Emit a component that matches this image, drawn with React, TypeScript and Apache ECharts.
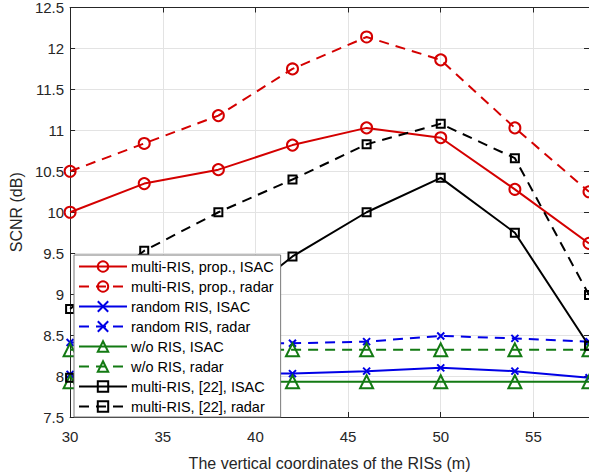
import React, { useEffect, useRef } from "react";
import * as echarts from "echarts";

const xValues = [30, 34, 38, 42, 46, 50, 54, 58];
const propISAC = [10.0, 10.35, 10.52, 10.82, 11.03, 10.91, 10.28, 9.62];
const propRadar = [10.5, 10.84, 11.18, 11.75, 12.14, 11.86, 11.03, 10.25];
const randomISAC = [8.02, 8.03, 8.03, 8.03, 8.06, 8.1, 8.06, 7.98];
const randomRadar = [8.41, 8.4, 8.4, 8.4, 8.42, 8.49, 8.46, 8.42];
const woISAC = [7.93, 7.93, 7.93, 7.93, 7.93, 7.93, 7.93, 7.93];
const woRadar = [8.32, 8.32, 8.32, 8.32, 8.32, 8.32, 8.32, 8.32];
const ref22ISAC = [7.98, 8.4, 8.75, 9.46, 10.0, 10.42, 9.75, 8.37];
const ref22Radar = [8.82, 9.53, 10.0, 10.4, 10.83, 11.08, 10.66, 8.99];

const seriesNames = [
  "multi-RIS, prop., ISAC",
  "multi-RIS, prop., radar",
  "random RIS, ISAC",
  "random RIS, radar",
  "w/o RIS, ISAC",
  "w/o RIS, radar",
  "multi-RIS, [22], ISAC",
  "multi-RIS, [22], radar",
];

const FONT = "'Liberation Sans', Arial, Helvetica, sans-serif";
const AXIS_COLOR = "#262626";
const RED = "#d40000";
const BLUE = "#0000e6";
const GREEN = "#137a13";
const BLACK = "#000000";
const CROSS = "path://M0,0L10,10M0,10L10,0";

export default function App() {
  const ref = useRef<HTMLDivElement>(null);
  useEffect(() => {
    if (!ref.current) return;
    const chart = echarts.init(ref.current, null, { renderer: "svg" });
    const mk = (
      name: string,
      data: number[],
      color: string,
      dashed: boolean,
      symbol: string,
      size: number
    ) => ({
      name,
      type: "line",
      data: xValues.map((x, i) => [x, data[i]]),
      symbol,
      symbolSize: size,
      showAllSymbol: true,
      clip: false,
      lineStyle: { color, width: 2, type: dashed ? [10, 7] : "solid" },
      itemStyle: { color: "rgba(0,0,0,0)", borderColor: color, borderWidth: 2 },
      emphasis: { disabled: true },
    });
    const series = [
      mk(seriesNames[0], propISAC, RED, false, "circle", 11),
      mk(seriesNames[1], propRadar, RED, true, "circle", 11),
      mk(seriesNames[2], randomISAC, BLUE, false, CROSS, 7),
      mk(seriesNames[3], randomRadar, BLUE, true, CROSS, 7),
      mk(seriesNames[4], woISAC, GREEN, false, "triangle", 13),
      mk(seriesNames[5], woRadar, GREEN, true, "triangle", 13),
      mk(seriesNames[6], ref22ISAC, BLACK, false, "rect", 8),
      mk(seriesNames[7], ref22Radar, BLACK, true, "rect", 8),
    ];
    chart.setOption({
      animation: false,
      backgroundColor: "#ffffff",
      textStyle: { fontFamily: FONT },
      grid: { left: 68, right: 0, top: 7, bottom: 58 },
      legend: {
        data: seriesNames,
        orient: "vertical",
        left: 74,
        top: 255,
        itemWidth: 48,
        itemHeight: 13,
        itemGap: 5,
        padding: [4, 7, 3, 4],
        backgroundColor: "#ffffff",
        borderColor: "#7a7a7a",
        borderWidth: 1,
        selectedMode: false,
        textStyle: { fontFamily: FONT, fontSize: 14.5, color: "#000", padding: [0, 0, 0, -1] },
      },
      xAxis: [
        {
          type: "value",
          min: 30,
          max: 58,
          interval: 5,
          name: "The vertical coordinates of the RISs (m)",
          nameLocation: "middle",
          nameGap: 38,
          nameTextStyle: { fontFamily: FONT, fontSize: 16, color: AXIS_COLOR },
          axisLine: { show: true, lineStyle: { color: AXIS_COLOR, width: 1 } },
          axisTick: { show: true, inside: true, length: 5, lineStyle: { color: AXIS_COLOR } },
          axisLabel: { fontFamily: FONT, fontSize: 15, color: AXIS_COLOR, margin: 12, showMaxLabel: false },
          splitLine: { show: true, lineStyle: { color: "#e3e3e3", width: 1 } },
        },
        {
          type: "value",
          position: "top",
          min: 30,
          max: 58,
          interval: 5,
          axisLine: { show: true, lineStyle: { color: AXIS_COLOR, width: 1 } },
          axisTick: { show: true, inside: true, length: 5, lineStyle: { color: AXIS_COLOR } },
          axisLabel: { show: false },
          splitLine: { show: false },
        },
      ],
      yAxis: [
        {
          type: "value",
          min: 7.5,
          max: 12.5,
          interval: 0.5,
          name: "SCNR (dB)",
          nameLocation: "middle",
          nameGap: 44,
          nameTextStyle: { fontFamily: FONT, fontSize: 16, color: AXIS_COLOR },
          axisLine: { show: true, lineStyle: { color: AXIS_COLOR, width: 1 } },
          axisTick: { show: true, inside: true, length: 5, lineStyle: { color: AXIS_COLOR } },
          axisLabel: { fontFamily: FONT, fontSize: 15, color: AXIS_COLOR, margin: 6 },
          splitLine: { show: true, lineStyle: { color: "#e3e3e3", width: 1 } },
        },
        {
          type: "value",
          position: "right",
          min: 7.5,
          max: 12.5,
          interval: 0.5,
          axisLine: { show: true, lineStyle: { color: AXIS_COLOR, width: 1 } },
          axisTick: { show: true, inside: true, length: 5, lineStyle: { color: AXIS_COLOR } },
          axisLabel: { show: false },
          splitLine: { show: false },
        },
      ],
      series,
    });
    return () => chart.dispose();
  }, []);
  return (
    <div
      ref={ref}
      style={{ position: "absolute", left: 0, top: 0, width: 589, height: 476 }}
    />
  );
}
